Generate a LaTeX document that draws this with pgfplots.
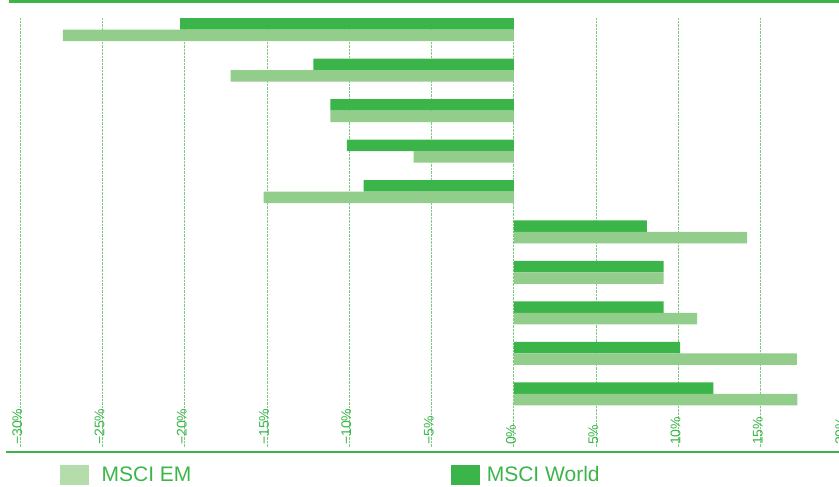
\documentclass[border=0pt]{standalone}
\usepackage{pgfplots}
\pgfplotsset{compat=1.18}
\usepackage{fontspec}
\setmainfont{Liberation Sans}
\definecolor{dkg}{HTML}{3BB54A}
\definecolor{ltg}{HTML}{93CD8B}
\definecolor{lgl}{HTML}{B5DCAB}
\definecolor{grd}{HTML}{7CCB7F}
\begin{document}
\begin{tikzpicture}
\useasboundingbox (0pt,0pt) rectangle (839pt,-487pt);
\begin{axis}[
  at={(20pt,-447pt)}, anchor=south west,
  scale only axis, width=823pt, height=429pt,
  xmin=-30, xmax=20,
  ymin=0.716, ymax=11.309, y dir=reverse,
  axis line style={draw=none},
  major tick length=0pt,
  ytick=\empty,
  xtick={-30,-25,-20,-15,-10,-5,0,5,10,15,20},
  xticklabels={−30\%,−25\%,−20\%,−15\%,−10\%,−5\%,0\%,5\%,10\%,15\%,20\%},
  xticklabel style={xshift=2pt, yshift=2pt, rotate=90, anchor=base west, inner sep=0pt,
     font=\fontsize{14}{14}\selectfont, text=dkg},
  xmajorgrids,
  major grid style={densely dotted, line width=0.8pt, color=grd},
  xbar, bar width=11.5pt,
  legend columns=2,
  legend style={draw=none, fill=none, inner sep=0pt, at={(0.0486,-0.0641)}, anchor=west,
    font=\fontsize{21}{21}\selectfont, text=dkg,
    nodes={inner sep=0pt},
    /tikz/column 1/.style={column sep=13pt},
    /tikz/column 2/.style={column sep=260pt},
    /tikz/column 3/.style={column sep=7pt}},
]
\addplot[xbar, fill=dkg, draw=none, bar shift=5.75pt, forget plot] coordinates {
(-20.27,1) (-12.17,2) (-11.15,3) (-10.14,4) (-9.13,5) (8.08,6) (9.1,7) (9.1,8) (10.1,9) (12.13,10)};
\addplot[xbar, fill=ltg, draw=none, bar shift=-5.75pt, forget plot] coordinates {
(-27.4,1) (-17.2,2) (-11.15,3) (-6.09,4) (-15.2,5) (14.18,6) (9.1,7) (11.14,8) (17.2,9) (17.23,10)};
\addlegendimage{legend image code/.code={\fill[lgl] (0pt,-9.5pt) rectangle (28pt,9.5pt);}}
\addlegendentry{MSCI EM}
\addlegendimage{legend image code/.code={\fill[dkg] (0pt,-9.5pt) rectangle (28pt,9.5pt);}}
\addlegendentry{MSCI World}
\end{axis}
\draw[dkg, line width=3pt] (9pt,-1.5pt) -- (845pt,-1.5pt);
\draw[dkg, line width=2pt] (6pt,-451.7pt) -- (845pt,-451.7pt);
\end{tikzpicture}
\end{document}
